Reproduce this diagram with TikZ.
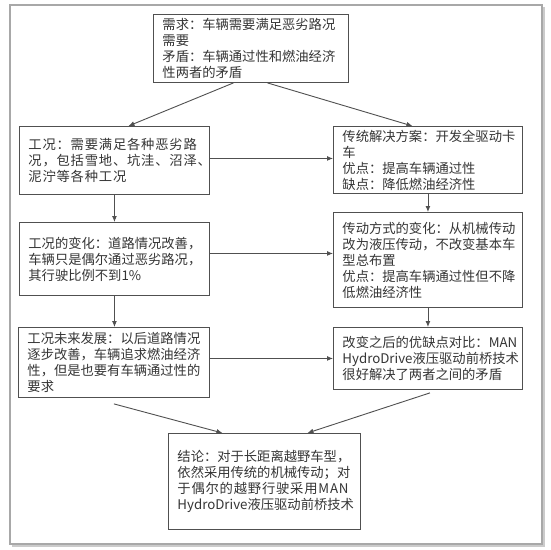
\documentclass[tikz,border=0pt]{standalone}
\usepackage{fontspec}
\setmainfont{Noto Sans CJK SC}
\usetikzlibrary{arrows.meta}
\definecolor{txt}{HTML}{353535}
\definecolor{edge}{HTML}{505050}
\definecolor{frame}{HTML}{A8A8A8}
\tikzset{
  box/.style={draw=edge, line width=0.9pt, anchor=north west, inner xsep=9pt, inner ysep=0pt,
    align=left, text=txt, font=\fontsize{13.3pt}{16pt}\selectfont},
  arr/.style={draw=edge, line width=0.9pt, -{Latex[length=6pt,width=5pt]}},
  plain/.style={draw=edge, line width=0.9pt}
}
\begin{document}
\begin{tikzpicture}[x=1pt,y=-1pt]
\useasboundingbox (0,0) rectangle (550,550);
\fill[white] (0,0) rectangle (550,550);
\draw[frame, line width=1.2pt] (10,5) rectangle (542,544);
\draw[frame!60, line width=2pt] (12,546) -- (544,546) -- (544,7);

\node[box, minimum width=195pt, minimum height=68pt, text width=177pt] (top) at (153,14)
  {需求：车辆需要满足恶劣路况\\需要\\矛盾：车辆通过性和燃油经济\\性两者的矛盾};

\node[box, minimum width=190pt, minimum height=68pt, text width=172pt, inner xsep=8pt] (L1) at (19,126)
  {\addfontfeature{LetterSpace=6}工况：需要满足各种恶劣路\\况，包括雪地、坑洼、沼泽、\\泥泞等各种工况};

\node[box, minimum width=189pt, minimum height=67pt, text width=171pt] (R1) at (333,126)
  {传统解决方案：开发全驱动卡\\车\\优点：提高车辆通过性\\缺点：降低燃油经济性};

\node[box, minimum width=190pt, minimum height=73pt, text width=172pt] (L2) at (19,222)
  {工况的变化：道路情况改善，\\车辆只是偶尔通过恶劣路况，\\其行驶比例不到1\%};

\node[box, minimum width=189pt, minimum height=95pt, text width=171pt] (R2) at (333,212)
  {传动方式的变化：从机械传动\\改为液压传动，不改变基本车\\型总布置\\优点：提高车辆通过性但不降\\低燃油经济性};

\node[box, minimum width=191pt, minimum height=70pt, text width=173pt] (L3) at (18,327)
  {工况未来发展：以后道路情况\\逐步改善，车辆追求燃油经济\\性，但是也要有车辆通过性的\\要求};

\node[box, minimum width=189pt, minimum height=62pt, text width=171pt] (R3) at (333,327)
  {改变之后的优缺点对比：MAN\\HydroDrive液压驱动前桥技术\\很好解决了两者之间的矛盾};

\node[box, minimum width=192pt, minimum height=96pt, text width=174pt] (C) at (168,433)
  {结论：对于长距离越野车型，\\依然采用传统的机械传动；对\\{\addfontfeature{LetterSpace=6}于偶尔的越野行驶采用MAN}\\HydroDrive液压驱动前桥技术};

% connectors
\draw[arr] ([xshift=-17.5pt]top.south) -- ([xshift=14pt]L1.north);
\draw[arr] ([xshift=16.5pt]top.south) -- ([xshift=-15.5pt]R1.north);
\draw[arr] ([yshift=2pt]L1.east) -- ([yshift=2pt]L1.east -| R1.west);
\draw[arr] (L1.south) -- (L1.south |- L2.north);
\draw[arr] (R1.south) -- (R1.south |- R2.north);
\draw[arr] ([yshift=5.5pt]L2.east) -- ([yshift=5.5pt]L2.east -| R2.west);
\draw[arr] (L2.south) -- (L2.south |- L3.north);
\draw[arr] (R2.south) -- (R2.south |- R3.north);
\draw[arr] (R3.west -| L3.east) -- (R3.west);
\coordinate (l3out) at ([yshift=-6pt]L3.south);
\coordinate (r3out) at ([yshift=-3pt,xshift=2pt]R3.south);
\draw[arr] (l3out) -- ([xshift=-42pt]C.north);
\draw[arr] (r3out) -- ([xshift=43pt]C.north);
\end{tikzpicture}
\end{document}
